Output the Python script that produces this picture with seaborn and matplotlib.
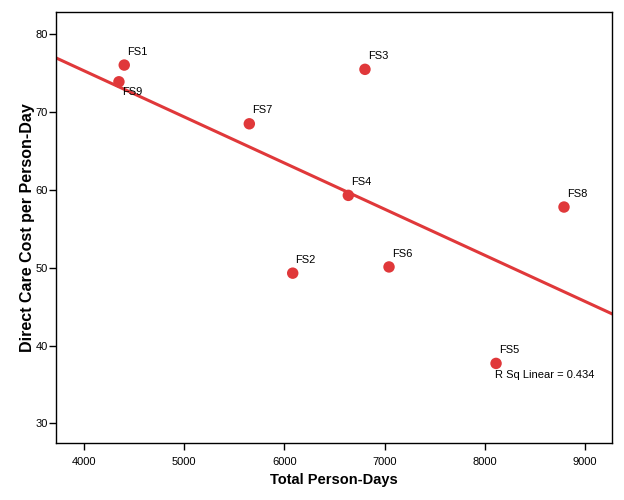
import matplotlib
matplotlib.use("Agg")
import matplotlib.pyplot as plt
import seaborn as sns
import pandas as pd
import numpy as np

labels = ["FS1", "FS2", "FS3", "FS4", "FS5", "FS6", "FS7", "FS8", "FS9"]
person_days = [4402, 6083, 6804, 6638, 8112, 7044, 5650, 8790, 4349]
cost = [76.05, 49.3, 75.5, 59.3, 37.7, 50.1, 68.5, 57.8, 73.9]

df = pd.DataFrame({"Total Person-Days": person_days,
                   "Direct Care Cost per Person-Day": cost,
                   "label": labels})

sns.set_style("white")
plt.rcParams["font.family"] = ["Liberation Sans", "DejaVu Sans"]
plt.rcParams["text.color"] = "black"
plt.rcParams["axes.labelcolor"] = "black"
plt.rcParams["xtick.color"] = "black"
plt.rcParams["ytick.color"] = "black"

fig = plt.figure(figsize=(6.24, 5.0), dpi=100)
ax = fig.add_axes([56 / 624, 1 - 443.3 / 500, (612.3 - 56) / 624, (443.3 - 12) / 500])
ax.set_xlim(3721, 9272)
ax.set_ylim(27.43, 82.87)

red = "#E0383A"
sns.regplot(data=df, x="Total Person-Days", y="Direct Care Cost per Person-Day",
            ax=ax, ci=None, truncate=False, color=red,
            scatter_kws={"s": 68, "alpha": 1, "edgecolor": "none", "zorder": 3},
            line_kws={"linewidth": 2.2, "zorder": 2})

for lab, x, y in zip(labels, person_days, cost):
    if lab == "FS9":
        ax.annotate(lab, (x, y), xytext=(2, -4), textcoords="offset points",
                    ha="left", va="top", fontsize=8, color="black")
    else:
        ax.annotate(lab, (x, y), xytext=(2, 6), textcoords="offset points",
                    ha="left", va="bottom", fontsize=8, color="black")

ax.text(0.789, 0.158, "R Sq Linear = 0.434", transform=ax.transAxes,
        ha="left", va="center", fontsize=8, color="black")

ax.set_xticks([4000, 5000, 6000, 7000, 8000, 9000])
ax.set_yticks([30, 40, 50, 60, 70, 80])
ax.tick_params(axis="both", which="major", direction="out", length=5, width=1,
               labelsize=8, color="black", labelcolor="black",
               bottom=True, left=True)
ax.tick_params(axis="y", pad=0.8)
ax.tick_params(axis="x", pad=5)
for s in ax.spines.values():
    s.set_color("black")
    s.set_linewidth(1)

ax.set_xlabel("Total Person-Days", fontsize=10.5, fontweight="bold", labelpad=4)
ax.set_ylabel("Direct Care Cost per Person-Day", fontsize=11.5, fontweight="bold", labelpad=0.5)

fig.savefig("out.png", dpi=100)
